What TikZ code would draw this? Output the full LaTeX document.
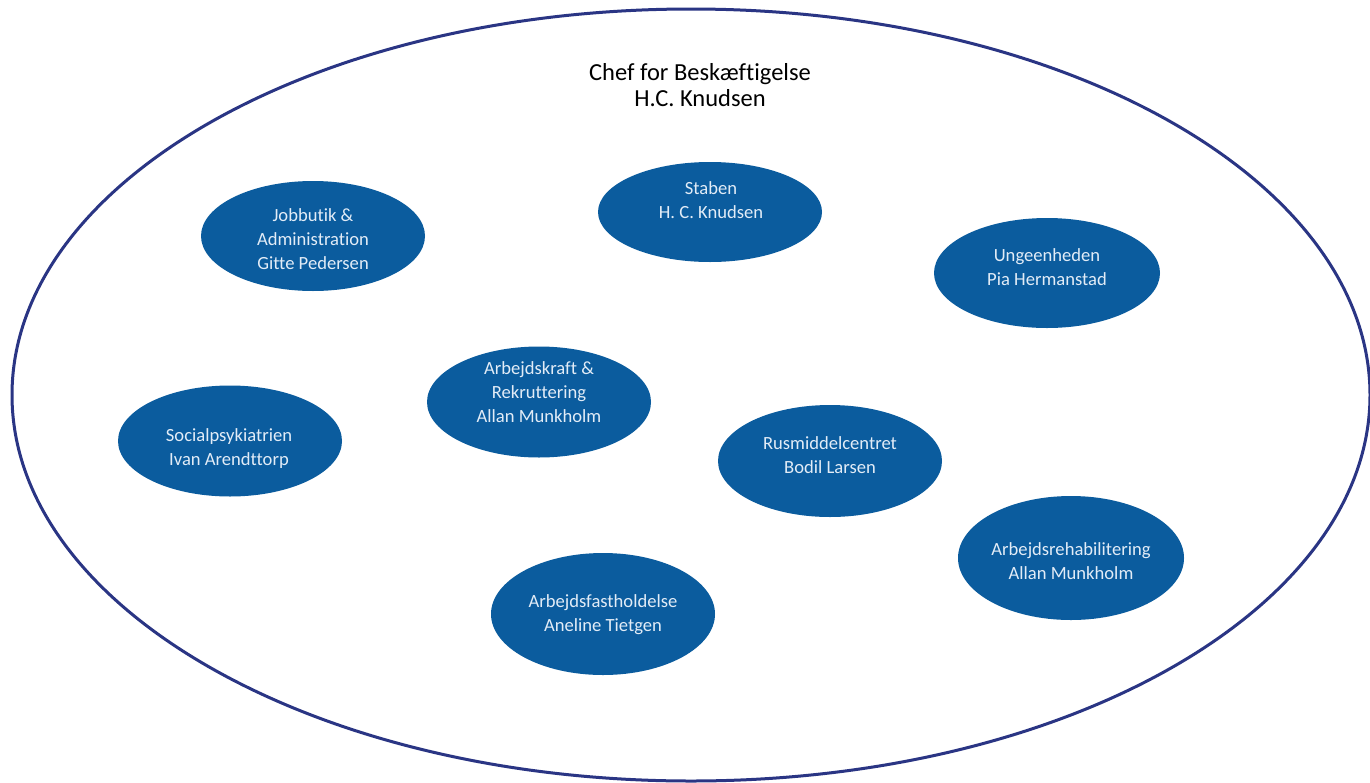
\documentclass[tikz,border=0pt]{standalone}
\usepackage{fontspec}
\setmainfont{Carlito}[Ligatures={NoCommon}]
\usetikzlibrary{shapes.geometric}
\definecolor{outerline}{HTML}{2A3584}
\definecolor{unitfill}{HTML}{0B5C9E}
\definecolor{unittext}{HTML}{E2ECF7}
\tikzset{
  unit/.style={ellipse, fill=unitfill, inner sep=0pt},
  unitlabel/.style={text=unittext, inner sep=0pt,
    align=center, font=\fontsize{18.6}{24}\selectfont},
  titletext/.style={align=center, text=black, font=\fontsize{24.5}{26.5}\selectfont}
}
\begin{document}
\begin{tikzpicture}[x=1pt,y=-1pt]
\useasboundingbox (0,0) rectangle (1370,782);
\fill[white] (0,0) rectangle (1370,782);
\node[draw=outerline, line width=3pt, ellipse, minimum width=1358pt, minimum height=772pt, inner sep=0pt] (outer) at (691,395) {};
\node[titletext] (chef) at (700,85) {Chef for Beskæftigelse\\H.C. Knudsen};
\node[unit, minimum width=224pt, minimum height=100pt] (staben) at (710,212) {};
\node[unitlabel] (stabenT) at (711,200) {Staben\\H. C. Knudsen};
\node[unit, minimum width=224pt, minimum height=110pt] (jobbutik) at (313,236) {};
\node[unitlabel] (jobbutikT) at (313,239) {Jobbutik \&\\Administration\\Gitte Pedersen};
\node[unit, minimum width=226pt, minimum height=110pt] (unge) at (1047,273) {};
\node[unitlabel] (ungeT) at (1047,267) {Ungeenheden\\Pia Hermanstad};
\node[unit, minimum width=224pt, minimum height=111pt] (arbkraft) at (539,402) {};
\node[unitlabel] (arbkraftT) at (539,392) {Arbejdskraft \&\\Rekruttering\\Allan Munkholm};
\node[unit, minimum width=224pt, minimum height=111pt] (social) at (230,441) {};
\node[unitlabel] (socialT) at (229,449) {Socialpsykiatrien\\Ivan Arendttorp};
\node[unit, minimum width=224pt, minimum height=112pt] (rus) at (830,461) {};
\node[unitlabel] (rusT) at (830,455) {Rusmiddelcentret\\Bodil Larsen};
\node[unit, minimum width=226pt, minimum height=124pt] (rehab) at (1071,558) {};
\node[unitlabel] (rehabT) at (1071,561) {Arbejdsrehabilitering\\Allan Munkholm};
\node[unit, minimum width=224pt, minimum height=122pt] (fast) at (603,614) {};
\node[unitlabel] (fastT) at (603,615) {Arbejdsfastholdelse\\Aneline Tietgen};
\end{tikzpicture}
\end{document}
